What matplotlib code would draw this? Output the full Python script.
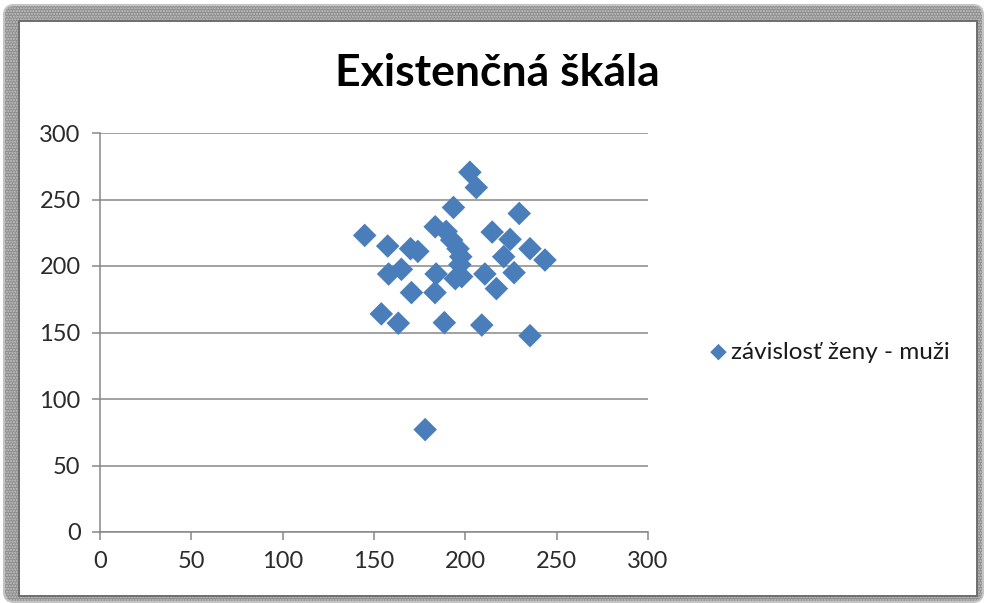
import matplotlib
matplotlib.use("Agg")
import matplotlib.pyplot as plt
from matplotlib.patches import FancyBboxPatch, Rectangle

# values (zeny on x, muzi on y)
zeny = [144.9, 157.5, 170.0, 174.0, 183.5, 189.5, 192.5, 193.5, 196.0, 197.5,
        197.0, 198.0, 194.5, 202.5, 206.0, 214.7, 224.5, 229.5, 235.4, 243.6,
        221.0, 226.7, 210.7, 217.0, 184.0, 183.4, 170.5, 158.0, 165.0, 154.0,
        163.3, 188.5, 209.0, 235.4, 178.0]
muzi = [223.0, 215.0, 213.0, 211.0, 229.5, 226.0, 219.5, 244.0, 213.0, 207.0,
        201.0, 192.0, 190.5, 270.5, 259.0, 225.5, 220.0, 239.5, 213.0, 204.5,
        207.0, 195.0, 194.0, 183.0, 194.0, 180.0, 180.0, 194.0, 197.5, 164.0,
        157.0, 157.4, 155.6, 147.6, 77.0]

title = "Existenčná škála"
series_name = "závislosť ženy - muži"
x_ticks = [0, 50, 100, 150, 200, 250, 300]
y_ticks = [0, 50, 100, 150, 200, 250, 300]

blue = '#4a7ebb'
grid_gray = '#878787'

fig = plt.figure(figsize=(9.84, 6.03), dpi=100)

# frame around the chart (pixel coords)
bg = fig.add_axes([0, 0, 1, 1], zorder=-5)
bg.set_xlim(0, 984)
bg.set_ylim(603, 0)
bg.axis('off')
outer = FancyBboxPatch((4, 5), 979, 597, boxstyle="round,pad=0,rounding_size=10",
                       facecolor='#8e8e8e', edgecolor='#c4c4c4', hatch='......', linewidth=1.5)
bg.add_patch(outer)
inner = Rectangle((19, 21), 958, 575, facecolor='white', edgecolor='#6e6e6e', linewidth=1.4)
bg.add_patch(inner)

ax = fig.add_axes([100 / 984, 1 - 532 / 603, 548 / 984, 399 / 603])
ax.scatter(zeny, muzi, marker='D', s=12 ** 2, color=blue, edgecolors='none',
           zorder=3, label=series_name)

ax.set_xlim(0, 300)
ax.set_ylim(0, 300)
ax.set_xticks(x_ticks)
ax.set_yticks(y_ticks)
ax.yaxis.grid(True, color=grid_gray, linewidth=1.1)
ax.set_axisbelow(True)
for s in ['top', 'right']:
    ax.spines[s].set_visible(False)
for s in ['left', 'bottom']:
    ax.spines[s].set_color(grid_gray)
    ax.spines[s].set_linewidth(1.1)
ax.tick_params(axis='both', direction='out', length=6, width=1.1, color=grid_gray,
               labelsize=17, labelcolor='#2b2b2b')
ax.tick_params(axis='x', pad=8)
ax.tick_params(axis='y', pad=8)
for lab in ax.get_xticklabels() + ax.get_yticklabels():
    lab.set_family(['Lato', 'DejaVu Sans'])

fig.text(497 / 984, 1 - 73 / 603, title, ha='center', va='center', fontsize=32,
         fontweight='bold', family=['Lato', 'DejaVu Sans'], color='black')

leg = fig.legend(loc='center left', bbox_to_anchor=(699 / 984, 1 - 352 / 603), frameon=False,
                 handletextpad=0.1, handlelength=0.8, markerscale=0.7, borderaxespad=0,
                 prop={'family': ['Lato', 'DejaVu Sans'], 'size': 17.5})
for t in leg.get_texts():
    t.set_color('#1a1a1a')

fig.savefig('out.png', dpi=100)
